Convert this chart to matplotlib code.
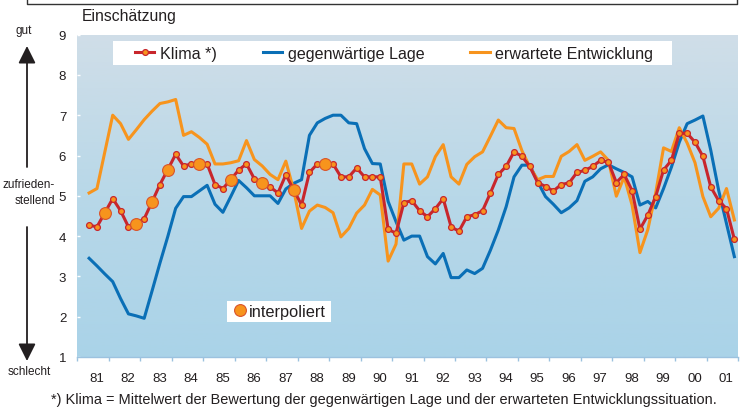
import numpy as np
import matplotlib
matplotlib.use("Agg")
import matplotlib.pyplot as plt
from matplotlib.lines import Line2D
from matplotlib.patches import Rectangle, FancyArrowPatch
from matplotlib.colors import LinearSegmentedColormap

plt.rcParams['font.family'] = ['Liberation Sans', 'DejaVu Sans']

# ---------------- data (quarter index: 0 = 1981 Q1) ----------------
quarters = list(range(1, 84))  # 1981 Q2 .. 2001 Q4

klima = [4.27, 4.23, 4.58, 4.93, 4.63, 4.23, 4.31, 4.43, 4.85, 5.28,
         5.65, 6.03, 5.74, 5.79, 5.79, 5.79, 5.28, 5.18, 5.40, 5.64,
         5.79, 5.42, 5.32, 5.22, 5.07, 5.52, 5.15, 4.77, 5.58, 5.79,
         5.79, 5.79, 5.47, 5.47, 5.69, 5.47, 5.47, 5.47, 4.17, 4.07,
         4.83, 4.88, 4.63, 4.48, 4.68, 4.93, 4.23, 4.12, 4.48, 4.53,
         4.63, 5.07, 5.53, 5.73, 6.09, 5.98, 5.73, 5.33, 5.23, 5.12,
         5.28, 5.32, 5.58, 5.63, 5.73, 5.88, 5.83, 5.33, 5.53, 5.13,
         4.17, 4.52, 4.98, 5.64, 5.88, 6.55, 6.55, 6.33, 5.98, 5.22,
         4.88, 4.68, 3.92]

lage = [3.45, 3.26, 3.06, 2.87, 2.45, 2.07, 2.02, 1.96, 2.64, 3.33,
        3.99, 4.69, 4.98, 4.98, 5.12, 5.26, 4.79, 4.59, 4.98, 5.38,
        5.20, 5.00, 5.00, 5.00, 4.81, 5.17, 5.31, 5.40, 6.50, 6.81,
        6.92, 7.00, 7.00, 6.81, 6.79, 6.17, 5.80, 5.79, 4.86, 4.36,
        3.90, 4.00, 4.00, 3.49, 3.31, 3.57, 2.97, 2.97, 3.16, 3.07,
        3.20, 3.65, 4.15, 4.73, 5.47, 5.76, 5.76, 5.35, 4.98, 4.79,
        4.58, 4.70, 4.88, 5.36, 5.47, 5.67, 5.77, 5.67, 5.58, 5.47,
        4.77, 4.86, 4.70, 5.18, 5.71, 6.33, 6.79, 6.88, 6.98, 6.13,
        5.14, 4.31, 3.49]

erwartung = [5.07, 5.18, 6.09, 7.00, 6.79, 6.40, 6.64, 6.89, 7.10, 7.29,
             7.33, 7.39, 6.50, 6.59, 6.45, 6.28, 5.79, 5.79, 5.82, 5.87,
             6.37, 5.90, 5.74, 5.53, 5.40, 5.86, 5.14, 4.19, 4.62, 4.77,
             4.71, 4.58, 3.98, 4.19, 4.57, 4.77, 5.16, 5.02, 3.38, 3.80,
             5.79, 5.79, 5.29, 5.47, 5.97, 6.27, 5.47, 5.29, 5.78, 5.97,
             6.09, 6.48, 6.88, 6.69, 6.67, 6.12, 5.72, 5.40, 5.48, 5.48,
             5.98, 6.10, 6.27, 5.88, 5.98, 6.09, 5.88, 4.99, 5.47, 4.77,
             3.59, 4.16, 5.07, 6.19, 6.10, 6.69, 6.31, 5.82, 4.98, 4.48,
             4.69, 5.18, 4.40]

interpoliert_q = [3, 7, 9, 11, 15, 19, 23, 27, 31]

year_labels = ['81', '82', '83', '84', '85', '86', '87', '88', '89', '90', '91',
               '92', '93', '94', '95', '96', '97', '98', '99', '00', '01']
y_ticks = [1, 2, 3, 4, 5, 6, 7, 8, 9]

legend_labels = ['Klima *)', 'gegenwärtige Lage', 'erwartete Entwicklung']

# ---------------- styling ----------------
RED = '#c8262c'
ORANGE = '#f7941d'
BLUE = '#0a6fb6'
TXT = '#231f20'
LW = 2.2

W, H = 741, 410
fig = plt.figure(figsize=(W / 100, H / 100), dpi=100)

def fx(px):
    return px / W

def fy(py):
    return 1 - py / H

ax_l, ax_r, ax_t, ax_b = 77.3, 738.3, 35.6, 358.0
ax = fig.add_axes([fx(ax_l), fy(ax_b), fx(ax_r - ax_l), (ax_b - ax_t) / H])

xpos = np.array(quarters) + 0.5
n_years = len(year_labels)
ax.set_xlim(0, 4 * n_years)
ax.set_ylim(y_ticks[0], y_ticks[-1])

# gradient background
cmap = LinearSegmentedColormap.from_list('bg', ['#aad3e8', '#b8d8e8', '#d0dee8'])
grad = np.linspace(0, 1, 256).reshape(-1, 1)
ax.imshow(grad, extent=[0, 4 * n_years, y_ticks[0], y_ticks[-1]], origin='lower',
          aspect='auto', cmap=cmap, zorder=0)

# series
ax.plot(xpos, lage, color=BLUE, lw=LW, zorder=2, solid_joinstyle='round')
ax.plot(xpos, erwartung, color=ORANGE, lw=LW, zorder=3, solid_joinstyle='round')
ax.plot(xpos, klima, color=RED, lw=LW, zorder=4, marker='o', markersize=4.2,
        markerfacecolor=ORANGE, markeredgecolor=RED, markeredgewidth=0.9,
        solid_joinstyle='round')
iq = np.array(interpoliert_q)
ax.plot(iq + 0.5, [klima[q - quarters[0]] for q in interpoliert_q], ls='none',
        marker='o', markersize=8.5, markerfacecolor=ORANGE, markeredgecolor='#d9532b',
        markeredgewidth=0.8, zorder=5)

# axes styling
for s in ['top', 'right', 'left']:
    ax.spines[s].set_visible(False)
ax.spines['bottom'].set_color('#9cc2df')
ax.spines['bottom'].set_linewidth(1.0)
ax.spines['bottom'].set_zorder(6)

ax.set_xticks(np.arange(0, 4 * n_years + 1, 4))
ax.set_xticklabels([])
ax.tick_params(axis='x', which='major', direction='out', length=3, width=1.0,
               color='#9cc2df')
ax.set_xticks(np.arange(n_years) * 4 + 2.45, minor=True)
ax.set_xticklabels(year_labels, minor=True)
ax.tick_params(axis='x', which='minor', length=0, pad=11, labelsize=9.5, labelcolor=TXT)

ax.set_yticks(y_ticks)
ax.set_yticklabels([str(v) for v in y_ticks])
ax.tick_params(axis='y', direction='in', length=2.2, width=1.0, color='white',
               pad=8, labelsize=9.5, labelcolor=TXT)

# legend boxes (white, behind legend entries)
ax.add_patch(Rectangle((fx(113), fy(66)), fx(672 - 113), (66 - 42) / H,
                       transform=fig.transFigure, facecolor='white',
                       edgecolor='none', zorder=6, clip_on=False))
ax.add_patch(Rectangle((fx(227), fy(323)), fx(331 - 227), (323 - 302) / H,
                       transform=fig.transFigure, facecolor='white',
                       edgecolor='none', zorder=6, clip_on=False))

handles = [
    Line2D([], [], color=RED, lw=LW, marker='o', markersize=4.2,
           markerfacecolor=ORANGE, markeredgecolor=RED, markeredgewidth=0.9),
    Line2D([], [], color=BLUE, lw=LW),
    Line2D([], [], color=ORANGE, lw=LW),
]
leg1 = ax.legend(handles, legend_labels, ncol=3, loc='center left',
                 bbox_to_anchor=(fx(135), fy(54)), bbox_transform=fig.transFigure,
                 frameon=False, fontsize=11.6, handlelength=1.2, handletextpad=0.35,
                 columnspacing=2.85, borderpad=0, borderaxespad=0, labelcolor=TXT)
leg1.set_zorder(8)
ax.add_artist(leg1)

h2 = Line2D([], [], ls='none', marker='o', markersize=8.5, markerfacecolor=ORANGE,
            markeredgecolor='#d9532b', markeredgewidth=0.8)
leg2 = ax.legend([h2], ['interpoliert'], loc='center left',
                 bbox_to_anchor=(fx(234), fy(312.5)), bbox_transform=fig.transFigure,
                 frameon=False, fontsize=11.75, handlelength=0.7, handletextpad=0.2,
                 borderpad=0, borderaxespad=0, labelcolor=TXT)
leg2.set_zorder(8)

# texts
fig.text(fx(82), fy(17), 'Einschätzung', fontsize=11.3, color=TXT, va='center', ha='left')
fig.text(fx(24), fy(31), 'gut', fontsize=8.5, color=TXT, va='center', ha='center')
fig.text(fx(55), fy(185), 'zufrieden-', fontsize=8.5, color=TXT, va='center', ha='right')
fig.text(fx(55), fy(201), 'stellend', fontsize=8.5, color=TXT, va='center', ha='right')
fig.text(fx(29), fy(372), 'schlecht', fontsize=8.5, color=TXT, va='center', ha='center')
fig.text(fx(384), fy(400), '*) Klima = Mittelwert der Bewertung der gegenwärtigen Lage '
         'und der erwarteten Entwicklungssituation.', fontsize=10.45, color=TXT,
         va='center', ha='center')

# arrows
fig.add_artist(FancyArrowPatch(
    (fx(27), fy(168)), (fx(27), fy(47)), transform=fig.transFigure,
    arrowstyle='-|>,head_length=7,head_width=3.5', color=TXT, lw=1.3,
    shrinkA=0, shrinkB=0, mutation_scale=1.5))
fig.add_artist(FancyArrowPatch(
    (fx(27), fy(228)), (fx(27), fy(362)), transform=fig.transFigure,
    arrowstyle='-|>,head_length=7,head_width=3.5', color=TXT, lw=1.3,
    shrinkA=0, shrinkB=0, mutation_scale=1.5))

# top frame remnant
fig.add_artist(Line2D([fx(27), fx(27), fx(737), fx(737)], [1.0, fy(5), fy(5), 1.0],
                      transform=fig.transFigure, color='#333333', lw=1.0))

fig.savefig('out.png', dpi=100)
